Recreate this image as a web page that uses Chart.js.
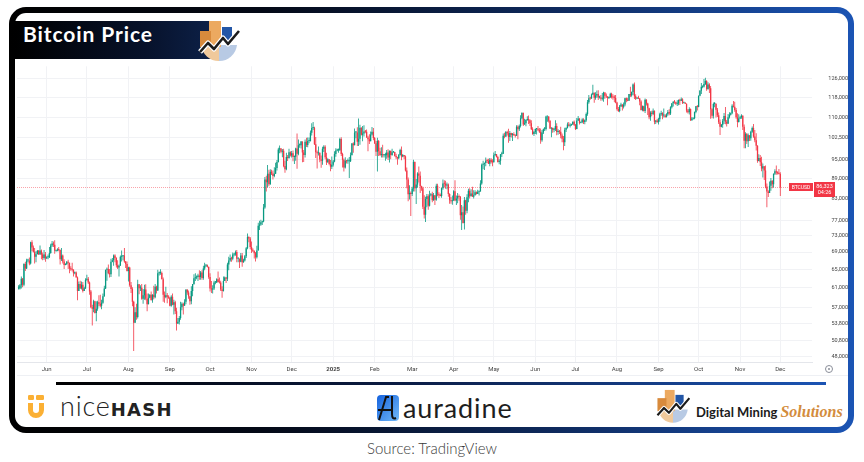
<!DOCTYPE html>
<html>
<head>
<meta charset="utf-8">
<script src="https://cdn.jsdelivr.net/npm/chart.js@4.4.1/dist/chart.umd.min.js"></script>
<style>
  html, body { margin: 0; padding: 0; background: #fff; }
  body { width: 864px; height: 462px; position: relative; overflow: hidden; font-family: Lato, sans-serif; }
  .abs { position: absolute; }
  #frame { left: 9px; top: 7px; width: 845px; height: 426px; border-radius: 17px;
    background: linear-gradient(90deg, #000 0%, #040916 30%, #0e2a5e 65%, #1b54b4 100%); }
  #inner { left: 15px; top: 13px; width: 833px; height: 414px; border-radius: 11px; background: #fff; }
  #banner { left: 15px; top: 21px; width: 201px; height: 38px;
    background: linear-gradient(90deg, #000 0%, #07122b 65%, #0d2149 100%); }
  #title { left: 23px; top: 21px; height: 38px; line-height: 38px; color: #fff;
    font: 700 21px Lato; letter-spacing: 0.9px; white-space: nowrap; }
  #chartBox { left: 17px; top: 60px; width: 831px; height: 318px; }
  #axisLine { left: 17px; top: 375px; width: 831px; height: 1px; background: #eef0f4; }
  #gear { left: 825px; top: 365px; width: 6px; height: 6px; border: 1px solid #8a8e99; border-radius: 50%; }
  #gear::after { content: ""; position: absolute; left: 2px; top: 2px; width: 2px; height: 2px; border-radius: 50%; background: #8a8e99; }
  #rule { left: 56px; top: 382px; width: 770px; height: 3px;
    background: linear-gradient(90deg, #000 0%, #0b1c44 45%, #1b54b4 100%); }
  #nh { left: 60px; top: 389px; height: 30px; line-height: 30px; white-space: nowrap; color: #222; }
  #nh .n { font: 300 27px Lato; letter-spacing: 0.8px; }
  #nh .h { font: 700 18px "DejaVu Sans"; letter-spacing: 1.3px; }
  #aura { left: 403px; top: 391px; height: 32px; line-height: 32px; font: 400 27px Lato; letter-spacing: 0.9px; color: #1e1e1e; white-space: nowrap; }
  #dms { left: 696px; top: 400px; height: 22px; line-height: 22px; white-space: nowrap; }
  #dms .d { font: 700 13px Lato; color: #1b1b1b; }
  #dms .s { font: italic 700 16px "Liberation Serif"; color: #d38c3d; margin-left: 3px; }
  #source { left: 0; top: 439px; width: 864px; text-align: center; font: 300 15px Lato; color: #3a3a3a; line-height: 18px; }
</style>
</head>
<body>
<div id="frame" class="abs"></div>
<div id="inner" class="abs"></div>
<div id="banner" class="abs"></div>
<div id="title" class="abs">Bitcoin Price</div>
<svg class="abs" style="left:197px;top:19px" width="44" height="42" viewBox="0 0 44 42">
  <path d="M4 26 A18 18 0 0 0 22 42 L22 26 Z" fill="#f0c99b"/>
  <path d="M22 26 L40 26 A18 18 0 0 1 22 42 Z" fill="#b8cae4"/>
  <rect x="12" y="2" width="12" height="26" fill="#eca960"/>
  <rect x="3" y="12" width="11" height="16" fill="#d88a3c"/>
  <rect x="25" y="8" width="10" height="13" fill="#2356a6"/>
  <polyline points="3,33 11,24 17,30 26,19 31,25 42,12" fill="none" stroke="#fff" stroke-width="5" stroke-linejoin="round"/>
  <polyline points="3,33 11,24 17,30 26,19 31,25 42,12" fill="none" stroke="#1c1c1c" stroke-width="2.6" stroke-linejoin="round"/>
</svg>
<div id="chartBox" class="abs"><canvas id="chart" width="831" height="318"></canvas></div>
<div id="axisLine" class="abs"></div>
<div id="gear" class="abs"></div>
<div id="rule" class="abs"></div>

<svg class="abs" style="left:28px;top:395px" width="16" height="26" viewBox="0 0 16 26">
  <rect x="0" y="0" width="6" height="5" rx="1.2" fill="#fbb034"/>
  <rect x="8" y="0" width="8" height="5" rx="1.2" fill="#fbb034"/>
  <path d="M0 8 H5 V15 A3 3 0 0 0 11 15 V8 H16 V15 A8 8 0 0 1 0 15 Z" fill="#fbb034"/>
</svg>
<div id="nh" class="abs"><span class="n">nice</span><span class="h">HASH</span></div>

<svg class="abs" style="left:377px;top:394px" width="22" height="28" viewBox="0 0 22 28">
  <defs><linearGradient id="ag" x1="0" y1="0" x2="1" y2="1">
    <stop offset="0" stop-color="#1462de"/><stop offset="1" stop-color="#72b9f8"/></linearGradient></defs>
  <rect x="0" y="1" width="22" height="26" rx="4" fill="url(#ag)"/>
  <path d="M2 26 L9 3 L12 3" stroke="#111" stroke-width="2" fill="none"/>
  <path d="M1 16 H16" stroke="#111" stroke-width="2"/>
  <path d="M15 2 V20 Q15 26 19 24" stroke="#111" stroke-width="2" fill="none"/>
</svg>
<div id="aura" class="abs">auradine</div>

<svg class="abs" style="left:655px;top:388px" width="36" height="35" viewBox="0 0 44 42">
  <path d="M4 26 A18 18 0 0 0 22 42 L22 26 Z" fill="#f0c99b"/>
  <path d="M22 26 L40 26 A18 18 0 0 1 22 42 Z" fill="#b8cae4"/>
  <rect x="12" y="2" width="12" height="26" fill="#eca960"/>
  <rect x="3" y="12" width="11" height="16" fill="#d88a3c"/>
  <rect x="25" y="8" width="10" height="13" fill="#2356a6"/>
  <polyline points="3,33 11,24 17,30 26,19 31,25 42,12" fill="none" stroke="#fff" stroke-width="5" stroke-linejoin="round"/>
  <polyline points="3,33 11,24 17,30 26,19 31,25 42,12" fill="none" stroke="#1c1c1c" stroke-width="2.6" stroke-linejoin="round"/>
</svg>
<div id="dms" class="abs"><span class="d">Digital Mining</span><span class="s">Solutions</span></div>

<div id="source" class="abs">Source: TradingView</div>

<script>
// daily BTCUSD candles, prices in thousands of USD, first candle on startDate
const startDate = "2024-05-11";
const firstOpen = 60.8;

const closes = [
  60.8,61.5,62.9,61.6,66.2,65.2,67.0,67.0,66.3,71.4,70.1,69.1,67.9,68.5,69.3,68.5,69.4,68.4,67.6,68.4,67.5, // May 24
  67.8,67.8,68.8,70.6,71.1,70.8,69.3,69.3,69.6,69.5,67.3,68.2,66.8,66.0,66.2,66.7,66.5,65.2,65.0,64.9,64.1,64.3,63.2,60.3,61.8,60.9,61.6,60.3,60.9,62.7, // Jun
  62.9,62.1,60.2,57.0,56.7,58.2,55.9,56.7,58.0,57.7,57.3,57.9,59.2,60.8,64.9,65.1,64.1,63.9,66.7,67.1,68.2,67.6,65.9,65.4,65.8,67.9,68.0,68.2,66.8,66.2,64.6, // Jul
  65.4,61.5,60.7,58.1,54.0,56.0,55.1,61.7,60.9,61.0,58.7,59.4,60.6,58.7,57.6,58.9,59.5,58.4,59.5,59.0,61.2,60.4,64.1,64.2,64.2,62.8,59.5,59.0,59.4,59.1,58.9, // Aug
  57.3,59.1,57.5,58.0,56.2,53.9,54.2,54.9,57.0,57.7,57.3,58.1,60.6,60.0,59.2,58.2,60.3,61.8,63.0,63.2,63.3,63.6,63.3,64.3,63.1,65.2,65.8,65.9,65.6,63.3, // Sep
  60.8,60.6,60.8,62.1,62.1,62.8,62.2,62.1,60.6,60.3,62.4,63.2,62.9,66.1,67.0,67.6,67.4,68.4,68.4,69.0,67.4,67.4,66.7,68.2,66.6,67.0,68.0,69.9,72.7,72.3,70.2, // Oct
  69.5,69.3,68.7,67.8,69.4,75.6,75.9,76.5,76.7,80.5,88.7,87.9,90.5,87.3,91.1,90.6,89.8,90.5,92.3,94.3,98.4,98.9,97.7,98.0,93.0,91.9,95.9,95.6,97.5,96.4, // Nov
  97.2,95.9,96.0,98.8,97.0,99.9,99.9,101.2,97.4,96.6,101.1,100.0,101.4,101.4,104.3,106.0,106.1,100.2,97.5,97.2,97.3,95.1,94.7,98.7,99.4,95.8,94.2,95.2,93.6,92.7,93.4, // Dec
  94.4,96.9,98.1,98.2,98.3,102.1,96.9,95.0,92.5,94.7,94.5,94.5,94.5,96.5,100.5,99.9,104.4,104.4,101.1,102.2,106.1,103.6,104.0,104.8,104.7,102.6,102.0,101.3,103.7,104.7,102.4, // Jan 25
  100.6,97.7,101.4,97.8,96.6,96.6,96.5,96.5,96.5,97.4,95.7,98.0,96.6,97.5,97.6,96.2,95.8,95.5,96.6,98.3,96.1,96.6,96.1,91.5,88.7,84.3,84.7,84.4, // Feb
  86.0,94.3,86.1,87.2,90.6,89.9,86.7,86.1,80.7,78.5,82.9,83.7,81.0,84.0,84.3,82.6,84.0,82.7,86.8,84.2,84.0,83.8,86.1,87.5,87.4,86.9,87.2,84.4,82.6,82.3,82.5, // Mar
  85.2,82.5,83.1,83.8,83.5,78.4,79.2,76.3,82.6,79.6,83.4,85.3,83.7,84.5,83.6,84.0,84.9,84.4,85.0,85.1,87.5,93.4,93.7,93.9,94.7,94.6,93.7,95.0,94.3,94.2, // Apr
  96.5,96.9,95.9,94.3,94.7,96.8,97.0,103.2,103.0,104.6,104.1,102.8,104.2,103.5,103.7,103.5,103.2,106.5,105.6,106.8,109.7,111.7,107.3,107.8,109.0,109.4,108.9,107.8,105.6,103.9,104.6, // May
  105.7,105.8,105.4,104.7,101.6,104.4,105.6,105.7,110.3,110.3,108.7,105.9,106.0,105.4,105.6,106.8,104.6,104.9,104.7,103.3,102.2,100.9,105.4,106.0,107.3,106.9,107.1,107.3,108.4,107.2, // Jun
  105.7,108.8,109.6,108.0,108.2,109.2,108.3,108.9,111.3,115.9,117.5,117.4,119.1,119.8,117.7,118.7,119.3,117.9,117.9,117.3,117.4,119.9,118.6,118.3,117.6,117.9,119.4,118.0,117.9,117.8,115.8, // Jul
  113.3,112.5,114.2,115.0,114.1,115.0,117.5,116.7,116.5,119.3,118.7,120.1,123.3,118.4,117.4,117.5,117.4,116.2,112.9,114.3,112.5,116.9,115.4,113.5,110.1,111.8,111.3,112.6,108.4,108.8,108.2, // Aug
  109.3,111.2,111.7,110.7,110.7,110.2,111.2,112.1,111.5,113.9,115.5,116.1,115.9,115.3,115.4,116.8,116.5,117.1,115.7,115.7,115.3,112.7,112.0,113.3,109.0,109.6,109.7,112.1,114.3,114.0, // Sep
  118.6,120.6,122.3,122.4,123.5,124.8,121.4,123.3,121.7,113.2,110.6,115.2,115.3,113.0,110.8,108.2,106.5,107.2,108.7,110.5,108.4,107.6,110.1,111.0,111.6,114.5,114.1,112.9,110.1,108.3,109.6, // Oct
  110.1,110.6,106.5,101.5,103.9,101.3,103.4,102.3,104.7,106.0,103.0,101.6,99.7,94.6,95.6,94.2,92.2,92.9,91.5,86.6,85.1,84.7,86.8,88.3,87.3,90.5,91.3,90.9,90.8,90.4, // Nov
  86.323 // Dec 1
];

const highs = [
  61.5,61.8,63.4,63.1,66.4,66.7,67.4,67.4,67.7,71.5,71.9,70.6,70.0,69.2,69.5,69.5,70.6,69.6,68.9,69.5,69.0,
  68.0,68.4,70.2,71.0,71.7,71.6,71.9,69.5,69.9,70.2,69.6,70.0,68.4,67.3,66.4,66.9,67.2,66.5,65.7,66.5,65.0,64.5,64.5,63.4,62.3,62.5,62.3,62.2,61.2,63.0,
  63.8,63.3,62.3,60.5,57.5,58.5,58.3,58.2,58.3,59.4,59.5,58.5,59.8,61.4,64.9,65.4,66.1,65.1,67.4,67.6,68.4,68.5,67.8,67.1,66.1,68.2,69.4,68.3,70.0,66.9,66.8,
  65.6,65.6,62.2,61.1,58.3,57.0,57.7,62.7,61.8,61.5,61.8,60.7,61.6,61.7,59.8,59.8,59.6,60.2,59.6,61.4,61.8,61.4,64.9,64.5,65.0,64.5,63.2,60.2,61.2,59.9,59.4,
  59.1,59.4,59.8,58.5,58.3,56.9,54.9,55.3,58.1,58.0,57.9,58.6,60.6,60.6,60.4,59.2,61.3,61.8,63.9,64.1,63.6,64.0,64.8,64.6,64.8,65.8,66.5,66.2,66.1,65.6,
  64.1,62.4,61.5,62.5,62.4,63.0,64.5,63.2,62.5,61.3,63.4,63.4,63.3,66.5,67.9,68.4,67.9,68.9,68.7,69.4,69.5,67.8,67.5,68.8,68.8,67.4,68.3,70.2,73.6,72.9,72.7,
  71.6,69.9,69.4,69.0,70.5,76.4,76.9,77.2,76.9,81.5,89.5,89.9,93.3,91.8,91.9,91.8,91.5,92.6,94.0,94.9,99.0,99.8,98.8,98.6,98.7,94.7,97.3,96.6,98.7,97.8,
  97.9,98.1,96.4,99.0,104.0,101.9,100.5,101.4,101.2,98.3,101.9,102.5,102.6,102.6,105.1,107.8,108.3,106.5,102.8,98.1,99.5,97.4,96.4,99.4,99.9,99.9,97.3,95.5,95.2,94.9,96.1,
  94.9,97.8,98.9,98.7,98.8,102.5,102.7,97.3,95.4,95.8,94.9,95.4,95.9,97.4,100.7,100.9,105.9,104.9,106.3,109.6,107.2,106.3,106.8,107.1,105.3,105.5,103.2,103.8,104.8,106.4,106.0,
  102.8,101.5,102.5,101.7,99.0,99.2,100.1,96.9,97.3,98.3,98.5,98.1,98.0,98.7,97.9,97.7,97.0,96.0,96.9,98.7,99.5,96.9,96.6,96.4,92.5,89.3,87.0,85.1,
  86.5,95.0,94.4,88.9,91.0,92.8,91.2,86.8,86.5,84.0,83.6,84.4,84.3,85.3,84.7,85.0,84.7,84.0,87.4,87.4,84.9,84.5,86.2,88.7,88.5,88.3,87.8,87.5,84.6,83.5,83.9,
  85.5,88.5,83.9,84.7,84.2,83.8,81.2,80.8,83.5,82.7,84.3,85.9,86.1,85.8,86.5,85.5,85.5,85.1,85.6,85.3,88.5,93.8,94.7,94.0,95.7,95.3,95.3,95.6,95.5,95.2,
  97.4,97.9,96.9,96.3,95.2,96.9,97.7,104.0,104.3,104.9,105.0,105.8,104.9,104.3,104.2,104.5,103.7,107.1,107.1,107.3,110.8,112.0,111.9,109.5,109.3,110.4,110.7,109.3,108.9,106.3,104.9,
  105.9,105.9,106.8,106.0,105.9,105.3,105.9,106.4,110.6,110.4,110.4,108.9,106.2,106.2,106.1,108.9,107.8,105.6,105.3,106.5,104.0,103.1,106.1,106.3,108.1,108.3,107.8,107.6,108.5,108.8,
  107.5,109.8,110.5,109.7,108.4,109.7,109.7,109.2,111.9,116.8,118.9,118.2,119.5,123.2,119.9,120.0,120.7,120.9,118.6,118.9,119.7,120.2,120.0,119.5,118.4,118.3,119.8,119.8,119.2,118.8,118.9,
  116.1,114.0,114.8,115.7,115.1,115.8,117.7,117.9,117.7,119.3,122.3,120.3,123.7,124.1,119.2,117.9,118.6,117.6,116.7,114.6,114.5,117.4,117.1,115.7,113.7,112.4,112.6,113.4,112.7,108.9,109.5,
  109.9,111.8,112.6,112.0,113.4,111.2,111.6,112.9,113.2,114.3,115.5,116.3,116.8,116.1,116.7,117.0,117.3,117.9,117.5,116.0,115.9,115.4,113.3,113.9,113.4,110.2,109.8,112.3,114.4,114.8,
  118.7,121.0,123.9,122.9,125.6,126.2,125.1,124.2,123.8,122.6,113.5,115.8,116.0,115.4,113.6,111.9,109.2,107.5,109.4,111.7,114.0,109.0,111.3,112.0,111.9,115.1,116.4,116.1,113.6,111.6,111.2,
  110.6,111.2,110.8,107.3,104.5,104.2,104.0,103.4,105.0,106.6,107.5,105.3,104.1,99.9,96.8,96.6,96.0,93.8,92.9,93.1,87.5,85.5,88.1,89.2,88.5,90.6,91.9,93.1,91.2,92.0,
  91.0
];

const lows = [
  60.6,60.6,60.8,61.1,61.3,64.6,65.1,66.6,65.9,66.1,69.2,68.9,66.3,66.6,68.5,68.3,68.3,67.3,67.1,67.2,66.7,
  67.4,67.3,67.6,68.6,70.2,70.2,68.6,69.1,69.2,69.2,66.1,66.9,66.3,65.1,65.9,66.0,65.1,64.1,64.7,64.5,63.4,63.9,63.2,58.4,60.3,60.7,60.6,60.0,60.3,60.7,
  62.5,61.8,59.5,56.8,53.5,56.0,55.8,54.3,56.3,57.2,57.0,56.6,57.7,59.1,60.7,62.5,63.9,63.2,63.3,66.6,65.8,66.6,65.4,65.1,63.4,65.8,66.8,67.1,66.5,65.3,64.5,
  62.3,61.2,59.9,57.2,49.0,54.0,54.6,54.8,59.6,60.3,58.5,57.7,58.5,58.4,56.2,57.6,58.8,58.4,57.9,58.6,58.8,59.8,60.3,63.6,63.8,62.8,58.1,57.9,58.8,57.8,58.7,
  57.2,57.1,57.4,55.6,55.7,52.6,53.8,53.7,54.6,56.4,55.6,57.3,57.6,59.5,58.7,57.5,57.6,59.2,61.6,62.4,62.8,62.4,62.7,62.7,62.7,62.7,64.8,65.5,65.4,62.9,
  60.2,59.9,59.8,60.5,61.7,62.0,62.1,61.9,60.3,58.9,60.2,62.4,62.0,62.4,64.8,66.7,66.7,67.1,68.0,68.1,66.6,66.6,65.3,66.6,65.6,66.5,66.8,67.6,69.7,71.4,69.7,
  68.8,69.0,67.5,66.8,67.5,69.4,74.5,75.6,75.8,76.5,80.2,85.1,86.3,86.7,87.1,90.1,88.7,89.4,90.4,91.5,94.1,97.2,97.2,95.8,92.6,90.8,91.6,94.6,95.3,96.1,
  95.7,94.5,93.6,94.7,92.1,96.5,99.0,98.8,94.2,94.3,95.7,99.3,99.2,100.6,101.2,103.3,105.3,100.0,95.6,92.2,96.4,94.2,92.4,93.4,97.6,95.2,93.3,94.0,93.2,91.3,92.0,
  92.8,94.2,96.0,97.8,97.3,97.9,96.2,92.5,91.2,92.2,93.8,93.7,89.2,94.3,96.5,97.3,99.9,102.3,99.6,99.6,100.1,103.3,101.3,103.0,104.1,102.5,97.8,100.3,101.3,103.3,101.6,
  100.3,96.2,91.2,96.2,96.2,95.7,95.7,95.7,94.7,95.3,94.9,94.1,95.2,96.3,97.3,96.1,95.2,93.4,95.2,96.4,94.8,95.8,95.2,91.2,86.1,82.3,82.8,78.2,
  83.8,85.1,85.1,81.5,86.3,87.8,84.7,85.3,80.1,77.5,76.6,80.6,79.9,80.8,83.7,82.0,82.4,81.2,82.4,83.7,83.2,83.7,83.3,85.6,86.3,85.9,85.8,83.6,81.6,81.6,81.3,
  82.4,82.3,81.2,81.7,82.4,77.2,74.5,76.2,74.6,78.5,78.9,82.0,83.1,83.7,83.6,83.1,83.9,84.2,84.4,83.9,85.1,87.1,91.9,91.7,92.9,93.9,93.6,92.9,93.8,92.9,
  94.1,96.3,95.7,94.1,93.5,93.4,95.9,96.9,102.3,102.8,103.3,100.8,101.4,102.6,101.4,103.1,102.6,103.1,102.0,104.9,106.2,109.3,106.8,107.2,106.7,108.7,107.5,106.8,105.3,103.6,103.1,
  103.9,103.7,104.9,104.2,100.4,101.1,103.9,104.9,105.1,108.4,108.1,105.7,102.7,104.3,104.5,104.9,103.4,103.6,103.9,102.3,100.9,98.2,99.6,104.6,105.9,106.6,106.2,106.9,107.2,106.8,
  105.3,105.6,108.6,107.3,107.8,107.8,107.5,107.4,108.4,110.6,115.3,116.9,117.3,118.9,115.7,116.9,117.7,116.8,117.4,116.5,116.6,116.1,117.3,117.6,114.7,117.2,117.8,117.4,116.9,115.9,115.5,
  112.7,112.1,112.0,114.1,112.7,113.4,114.3,115.9,116.3,116.5,118.1,118.2,118.9,117.2,116.8,117.2,117.2,114.7,112.7,112.4,112.3,111.7,114.6,110.9,109.3,108.7,110.4,110.9,107.4,107.5,108.1,
  107.3,108.4,110.6,109.3,110.0,109.9,110.0,110.6,110.8,110.9,113.4,114.2,115.3,114.8,114.4,114.7,114.8,116.4,115.2,115.4,115.2,111.9,111.5,111.1,108.6,108.6,109.2,109.3,111.6,112.7,
  113.9,118.4,119.3,121.7,122.0,123.1,120.6,121.1,119.7,109.5,109.7,109.6,113.9,110.0,110.2,107.5,103.5,106.3,106.1,107.5,107.4,106.6,107.6,109.6,110.7,111.2,113.8,112.2,109.5,106.3,108.1,
  109.4,109.5,105.3,98.9,98.9,100.3,99.3,101.4,101.5,104.3,102.5,100.9,98.1,94.0,94.5,93.0,91.3,89.3,88.6,86.1,80.6,83.5,84.7,85.3,86.1,86.3,90.1,90.2,90.3,90.3,
  83.8
];

const monthTicks = ["2024-06-01","2024-07-01","2024-08-01","2024-09-01","2024-10-01","2024-11-01","2024-12-01",
  "2025-01-01","2025-02-01","2025-03-01","2025-04-01","2025-05-01","2025-06-01","2025-07-01","2025-08-01",
  "2025-09-01","2025-10-01","2025-11-01","2025-12-01"];
const monthLabels = ["Jun","Jul","Aug","Sep","Oct","Nov","Dec","2025","Feb","Mar","Apr","May","Jun","Jul","Aug","Sep","Oct","Nov","Dec"];
const priceTicks = [48000,50800,53800,57000,61000,65000,69000,73000,77000,83000,89000,95000,102500,110000,118000,126000];
const viewStart = "2024-05-09";
const viewEnd = "2025-12-25";
const symbol = "BTCUSD";
const countdown = "04:26";

const UP = "#089981";
const DOWN = "#f23645";

const dayIndex = (s) => (Date.parse(s) - Date.parse(startDate)) / 86400000;

// BTC trades around the clock: each daily candle opens at the previous close
const opens = closes.map((c, i) => i === 0 ? firstOpen : closes[i - 1]);
const colors = closes.map((c, i) => c >= opens[i] ? UP : DOWN);
const lastPrice = closes[closes.length - 1] * 1000;

const wickData = closes.map((c, i) => ({ x: i, y: [lows[i] * 1000, highs[i] * 1000] }));
const bodyData = closes.map((c, i) => ({ x: i, y: [opens[i] * 1000, c * 1000] }));

const priceTag = {
  id: "priceTag",
  beforeDatasetsDraw(chart) {
    const { ctx, chartArea: a, scales } = chart;
    const py = Math.round(scales.y.getPixelForValue(lastPrice)) + 0.5;
    ctx.save();
    ctx.strokeStyle = "rgba(242,54,69,0.45)";
    ctx.lineWidth = 1;
    ctx.setLineDash([1, 1]);
    ctx.beginPath();
    ctx.moveTo(a.left, py);
    ctx.lineTo(a.right, py);
    ctx.stroke();
    ctx.restore();
  },
  afterDraw(chart) {
    const { ctx, chartArea: a, scales } = chart;
    const py = Math.round(scales.y.getPixelForValue(lastPrice));
    ctx.save();
    ctx.fillStyle = DOWN;
    ctx.fillRect(a.right - 23, py - 4, 24, 8);
    ctx.fillRect(a.right + 2, py - 5, 21, 15);
    ctx.fillStyle = "#fff";
    ctx.textAlign = "center";
    ctx.textBaseline = "middle";
    ctx.font = "5px Roboto";
    ctx.fillText(symbol, a.right - 11, py + 0.5);
    ctx.font = "5.5px Roboto";
    ctx.fillText(lastPrice.toLocaleString("en-US", { maximumFractionDigits: 0 }), a.right + 12.5, py - 0.5);
    ctx.fillText(countdown, a.right + 12.5, py + 5.5);
    ctx.restore();
  }
};

Chart.defaults.font.family = "Roboto";

new Chart(document.getElementById("chart"), {
  type: "bar",
  data: {
    datasets: [
      {
        label: "wick",
        data: wickData,
        backgroundColor: colors,
        maxBarThickness: 0.8,
        categoryPercentage: 1,
        barPercentage: 1,
        inflateAmount: 0,
        borderWidth: 0,
        grouped: false
      },
      {
        label: "body",
        data: bodyData,
        backgroundColor: colors,
        maxBarThickness: 1.3,
        categoryPercentage: 1,
        barPercentage: 1,
        inflateAmount: 0,
        borderWidth: 0,
        minBarLength: 1,
        grouped: false
      }
    ]
  },
  options: {
    responsive: false,
    animation: false,
    events: [],
    layout: { padding: { top: 4, left: 0, right: 0, bottom: 0 } },
    plugins: { legend: { display: false }, tooltip: { enabled: false } },
    scales: {
      x: {
        type: "linear",
        offset: false,
        min: dayIndex(viewStart) + 0.8,
        max: dayIndex(viewEnd) - 0.3,
        grid: { color: "#f1f2f5", drawTicks: false, offset: false },
        border: { display: true, color: "#e4e6eb" },
        ticks: {
          autoSkip: false,
          maxRotation: 0,
          padding: 4,
          color: "#444",
          font: (c) => ({ size: 6, weight: c.tick && /^\d{4}$/.test(c.tick.label) ? "bold" : "normal" }),
          callback: (v, i) => monthLabels[i]
        },
        afterBuildTicks: (s) => { s.ticks = monthTicks.map(d => ({ value: dayIndex(d) })); },
        afterFit: (s) => { s.height = 16; }
      },
      y: {
        type: "logarithmic",
        position: "right",
        min: 47155,
        max: 131300,
        grid: { color: "#f1f2f5", drawTicks: false },
        border: { display: false },
        ticks: {
          padding: 3,
          crossAlign: "far",
          color: "#444",
          font: { size: 5.5 },
          callback: (v) => Number(v).toLocaleString("en-US")
        },
        afterBuildTicks: (s) => { s.ticks = priceTicks.map(v => ({ value: v })); },
        afterFit: (s) => { s.width = 36; }
      }
    }
  },
  plugins: [priceTag]
});
</script>
</body>
</html>
